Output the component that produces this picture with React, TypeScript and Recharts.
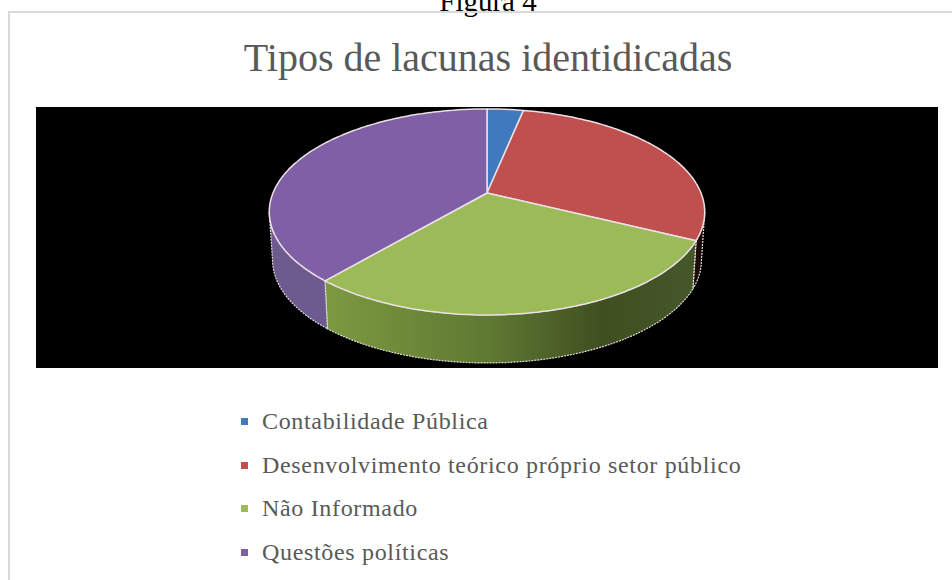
import { PieChart, Pie, Legend } from 'recharts';

const categories = ['Contabilidade Pública', 'Desenvolvimento teórico próprio setor público', 'Não Informado', 'Questões políticas'];
const counts = [1, 9, 9, 12];
const topColors = ['#4079bd', '#c0504d', '#9bbb59', '#7f60a6'];
const wallColors = ['#000000', '#1a0a0a', 'url(#greenWall)', '#6d5a8e'];

const table = categories.map((name, i) => ({ name, value: counts[i], fill: topColors[i], wall: wallColors[i] }));

// perspective tilt of the disc, the pie is drawn flat by recharts and then projected
const tilt = 0.184;
const squash = 0.465;
const depth = 48;

function project(cx: number, cy: number, r: number, deg: number, drop = 0, shrink = 1) {
  const rad = (deg * Math.PI) / 180;
  const u = Math.cos(rad);
  const v = Math.sin(rad);
  const w = 1 + tilt * v;
  return [cx + (r * shrink * u) / w, cy - (r * squash * v) / w + drop];
}

function arcPoints(cx: number, cy: number, r: number, from: number, to: number, drop = 0, shrink = 1) {
  const pts: number[][] = [];
  const steps = Math.max(2, Math.ceil(Math.abs(to - from)));
  for (let i = 0; i <= steps; i++) {
    pts.push(project(cx, cy, r, from + ((to - from) * i) / steps, drop, shrink));
  }
  return pts;
}

const toPath = (pts: number[][]) => 'M' + pts.map((p) => p[0].toFixed(1) + ' ' + p[1].toFixed(1)).join('L') + 'Z';

function TopSlice(props: any) {
  const { cx, cy, outerRadius, startAngle, endAngle, fill } = props;
  const pts = [[cx, cy], ...arcPoints(cx, cy, outerRadius, startAngle, endAngle)];
  return <path d={toPath(pts)} fill={fill} stroke="#ecdfe6" strokeWidth={1.5} strokeLinejoin="round" />;
}

// only the part of the side between the two silhouette angles can be seen
function WallSlice(props: any) {
  const { cx, cy, outerRadius, startAngle, endAngle, wall } = props;
  const from = Math.min(startAngle, -10.6);
  const to = Math.max(endAngle, -169.4);
  if (from <= to) return null;
  const top = arcPoints(cx, cy, outerRadius, from, to);
  const bottom = arcPoints(cx, cy, outerRadius, to, from, depth, 0.985);
  return <path d={toPath([...top, ...bottom])} fill={wall} stroke="#e4e0dc" strokeWidth={1.2} strokeDasharray="2 1" />;
}

function LegendList({ payload }: any) {
  return (
    <div>
      {(payload || []).filter((item: any) => item.type !== 'none').map((item: any) => (
        <div key={item.value} style={{ height: 43.6, display: 'flex', alignItems: 'center' }}>
          <span style={{ width: 7, height: 7, background: item.color, marginRight: 14 }} />
          <span>{item.value}</span>
        </div>
      ))}
    </div>
  );
}

export default function App() {
  return (
    <div style={{ position: 'absolute', left: 0, top: 0, width: 952, height: 580, overflow: 'hidden', background: '#fff' }}>
      <div style={{ position: 'absolute', left: 0, width: 976, top: -15, textAlign: 'center', fontFamily: 'Liberation Serif', fontSize: 29, color: '#000' }}>
        Figura 4
      </div>
      <div style={{ position: 'absolute', left: 8, top: 11, width: 960, height: 600, border: '2px solid #d9d9d9' }} />
      <div style={{ position: 'absolute', left: 0, width: 976, top: 34, textAlign: 'center', fontFamily: 'Liberation Serif', fontSize: 40, color: '#595959' }}>
        Tipos de lacunas identidicadas
      </div>
      <div style={{ position: 'absolute', left: 36, top: 107, width: 902, height: 261, background: '#000' }} />
      <div style={{ position: 'absolute', left: 0, top: 0 }}>
        <PieChart width={952} height={580} margin={{ top: 0, right: 0, bottom: 0, left: 0 }}>
          <defs>
            <linearGradient id="greenWall" x1="0" y1="0" x2="1" y2="0">
              <stop offset="0%" stopColor="#7b9a40" />
              <stop offset="45%" stopColor="#5f7832" />
              <stop offset="75%" stopColor="#3f4f20" />
              <stop offset="100%" stopColor="#46572a" />
            </linearGradient>
          </defs>
          <Pie data={table} dataKey="value" nameKey="name" cx={487} cy={193} outerRadius={214} startAngle={90} endAngle={-270}
            shape={WallSlice} legendType="none" isAnimationActive={false} />
          <Pie data={table} dataKey="value" nameKey="name" cx={487} cy={193} outerRadius={214} startAngle={90} endAngle={-270}
            shape={TopSlice} legendType="rect" isAnimationActive={false} />
          <Legend layout="vertical" align="center" verticalAlign="middle" content={LegendList}
            wrapperStyle={{ left: 241, top: 400, width: 600, fontFamily: 'Liberation Serif', fontSize: 24, color: '#595959', letterSpacing: 0.67 }} />
        </PieChart>
      </div>
    </div>
  );
}
